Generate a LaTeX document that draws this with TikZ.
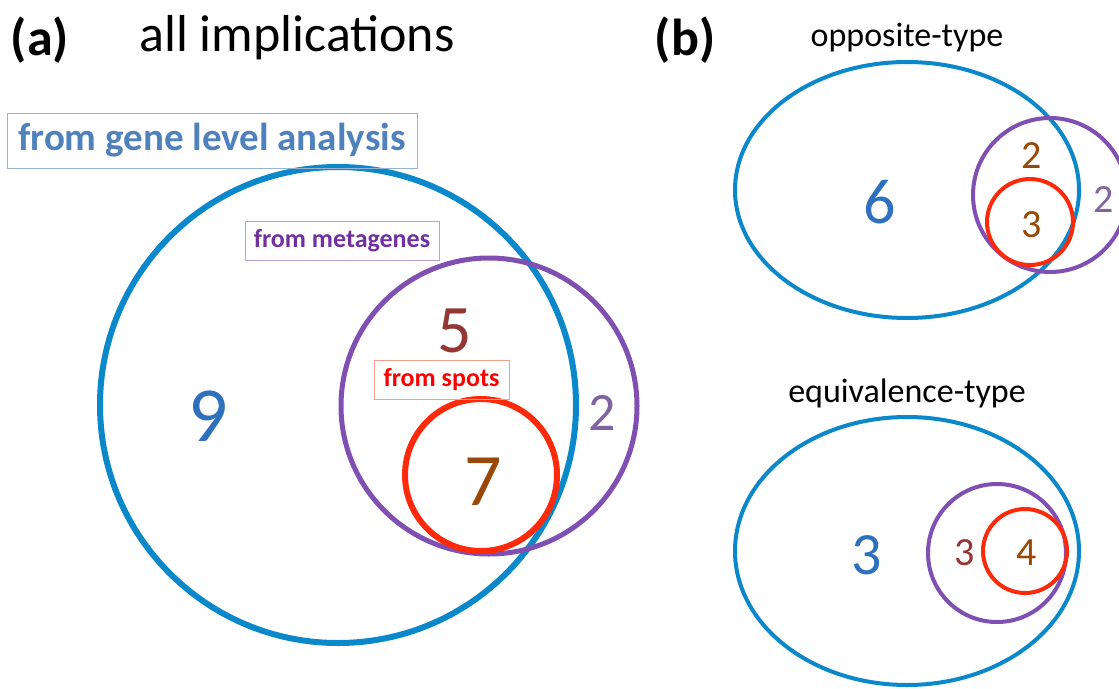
\documentclass[tikz,border=0pt]{standalone}
\usepackage{fontspec}
\setmainfont{Carlito}
\definecolor{cblue}{HTML}{0A88CA}
\definecolor{cpurple}{HTML}{7F4FB2}
\definecolor{cred}{HTML}{FF2A0A}
\definecolor{tblue}{HTML}{2E6FBE}
\definecolor{tgene}{HTML}{4F81BD}
\definecolor{bgene}{HTML}{95B3D7}
\definecolor{tmeta}{HTML}{7030A0}
\definecolor{bmeta}{HTML}{B4A2DA}
\definecolor{tspot}{HTML}{FF0000}
\definecolor{bspot}{HTML}{F4A08C}
\definecolor{tbrownred}{HTML}{943634}
\definecolor{tbrown}{HTML}{984807}
\definecolor{tpurple}{HTML}{8064A2}
\newcommand{\fs}[1]{\fontsize{#1}{#1}\selectfont}
\begin{document}
\begin{tikzpicture}[x=1pt,y=1pt,
  lbl/.style={inner sep=0pt, anchor=center},
  tagbox/.style={draw, line width=1pt, inner xsep=4pt, inner ysep=4pt, font=\bfseries}]
\useasboundingbox (0,0) rectangle (1119,-688);
% titles
\node[lbl, font=\fs{52}\bfseries] (ta) at (40,-40) {(a)};
\node[lbl, font=\fs{52}] (tall) at (297,-38) {all implications};
\node[lbl, font=\fs{52}\bfseries] (tb) at (685,-40) {(b)};
% (a) circles
\draw[cblue, line width=6pt] (338,-405) circle[radius=238];
\draw[cpurple, line width=5pt] (489,-406) circle[radius=148];
\draw[cred, line width=6pt] (481,-475) circle[radius=76];
% (a) boxes
\node[tagbox, draw=bgene, text=tgene, font=\fs{39}\bfseries, minimum width=410pt, minimum height=55pt] (gene) at (212,-140.5) {from gene level analysis};
\node[tagbox, draw=bmeta, text=tmeta, font=\fs{26}\bfseries, minimum width=194pt, minimum height=39pt] (meta) at (342,-240.5) {from metagenes};
\node[tagbox, draw=bspot, text=tspot, font=\fs{26}\bfseries, minimum width=135pt, minimum height=39pt] (spot) at (441.5,-379.5) {from spots};
% (a) numbers
\node[lbl, text=tblue, font=\fs{78}] (n9) at (208,-416) {9};
\node[lbl, text=tbrownred, font=\fs{68}] (n5) at (455,-331) {5};
\node[lbl, text=tbrown, font=\fs{74}] (n7) at (483,-482) {7};
\node[lbl, text=tpurple, font=\fs{54}] (n2) at (602,-413) {2};
% (b) upper
\node[lbl, font=\fs{34}] (opp) at (907,-38) {opposite-type};
\draw[cblue, line width=4pt] (907,-190) ellipse[x radius=172, y radius=128];
\draw[cpurple, line width=4pt] (1050,-195) circle[radius=77];
\draw[cred, line width=4pt] (1030,-222) circle[radius=43];
\node[lbl, text=tblue, font=\fs{64}] (n6) at (880,-202) {6};
\node[lbl, text=tbrown, font=\fs{40}] (u2) at (1032,-156) {2};
\node[lbl, text=tbrown, font=\fs{40}] (u3) at (1032,-225) {3};
\node[lbl, text=tpurple, font=\fs{40}] (up2) at (1104,-200) {2};
% (b) lower
\node[lbl, font=\fs{34}] (equ) at (907,-393) {equivalence-type};
\draw[cblue, line width=4pt] (907,-551) ellipse[x radius=172, y radius=134];
\draw[cpurple, line width=4pt] (997,-553) circle[radius=69];
\draw[cred, line width=4pt] (1025,-551) circle[radius=42];
\node[lbl, text=tblue, font=\fs{60}] (l3) at (867,-555) {3};
\node[lbl, text=tbrownred, font=\fs{40}] (m3) at (965,-553) {3};
\node[lbl, text=tbrown, font=\fs{40}] (m4) at (1027,-553) {4};
\end{tikzpicture}
\end{document}
